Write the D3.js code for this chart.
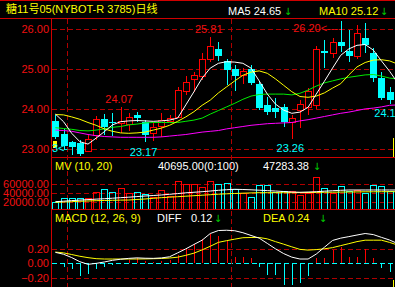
<!DOCTYPE html>
<html><head><meta charset="utf-8">
<script src="https://cdn.jsdelivr.net/npm/d3@7"></script>
<style>
html,body{margin:0;padding:0;background:#000;overflow:hidden}
svg{display:block}
text{font-family:"Liberation Sans",Arial,"Noto Sans CJK SC",sans-serif;font-size:11px}
</style></head><body>
<svg id="c" width="395" height="287"></svg>
<script>
// ---- data ----
const opens  = [23.71,23.38,23.17,23.15,22.97,23.36,23.76,23.67,23.65,23.63,23.86,23.67,23.40,23.58,23.72,23.82,24.47,24.75,24.83,25.25,25.52,25.20,25.02,24.86,25.01,24.64,24.11,24.04,24.05,23.68,23.98,24.05,24.10,25.46,25.40,25.69,25.46,25.33,25.78,25.40,24.78,24.42,24.40];
const highs  = [23.85,23.50,23.21,23.23,23.35,23.83,23.88,23.90,24.07,23.90,23.94,23.73,23.67,23.90,23.86,24.57,24.82,24.94,25.40,25.81,25.67,25.25,25.10,25.04,25.11,24.70,24.30,24.29,24.13,23.86,24.23,24.53,25.57,25.73,25.78,26.20,25.98,26.10,26.15,25.53,24.94,24.57,24.60];
const lows   = [23.25,22.98,22.86,22.83,22.93,23.23,23.35,23.33,23.40,23.45,23.69,23.17,23.22,23.32,23.65,23.78,24.36,24.44,24.73,25.19,25.22,24.60,24.46,24.63,24.60,23.98,23.86,23.79,23.57,23.26,23.54,23.86,24.02,25.03,25.28,25.44,25.19,25.27,25.40,24.69,24.23,24.13,24.18];
const closes = [23.30,23.08,23.06,22.88,23.26,23.76,23.57,23.65,23.71,23.80,23.78,23.36,23.57,23.73,23.78,24.48,24.69,24.86,25.25,25.57,25.32,24.99,24.83,24.96,24.65,24.04,23.92,23.94,23.67,23.78,24.13,24.47,25.50,25.40,25.67,25.59,25.32,25.90,25.61,24.78,24.28,24.23,24.35];
const ma5  = [23.88,23.69,23.40,23.19,23.13,23.28,23.44,23.61,23.69,23.71,23.72,23.71,23.70,23.71,23.73,23.78,24.11,24.44,24.78,25.03,25.15,25.19,25.18,25.15,25.03,24.71,24.38,24.13,23.98,23.90,23.93,24.05,24.38,24.70,25.03,25.35,25.51,25.60,25.62,25.48,25.21,24.95,24.66];
const ma10 = [23.87,23.86,23.81,23.75,23.67,23.60,23.51,23.45,23.41,23.40,23.41,23.43,23.48,23.53,23.60,23.70,23.81,23.94,24.10,24.23,24.41,24.56,24.71,24.85,24.93,24.96,24.90,24.76,24.60,24.44,24.32,24.30,24.33,24.41,24.53,24.64,24.86,25.06,25.17,25.23,25.24,25.21,25.13];
const ma20 = [23.54,23.52,23.50,23.47,23.46,23.48,23.51,23.55,23.57,23.61,23.63,23.66,23.67,23.67,23.67,23.67,23.70,23.73,23.78,23.88,23.97,24.06,24.15,24.25,24.33,24.37,24.38,24.38,24.38,24.36,24.40,24.48,24.58,24.66,24.71,24.76,24.80,24.83,24.86,24.87,24.83,24.78,24.76];
const ma60 = [23.48,23.47,23.45,23.41,23.37,23.34,23.32,23.31,23.30,23.30,23.30,23.30,23.30,23.31,23.33,23.35,23.37,23.40,23.43,23.45,23.47,23.51,23.54,23.57,23.60,23.62,23.64,23.65,23.66,23.67,23.71,23.74,23.78,23.82,23.86,23.90,23.93,23.97,24.01,24.03,24.06,24.10,24.11];
const volumes = [21000,28200,29600,29600,28200,41600,48200,41600,50400,39300,41600,37800,31800,46700,34000,66700,59300,59300,54000,66700,59300,61600,48200,39300,30400,57800,57800,42900,45100,45100,35600,40700,74900,50400,39300,55600,45100,46700,39300,57800,55600,45100,45100];
const volMa10 = [20700,21800,23100,24200,25300,26400,27300,28400,29600,30700,32000,33300,34400,35600,37100,38700,40400,41600,42900,44400,46000,47300,48200,47800,47100,46200,45300,44400,43300,42200,41600,42200,42900,44000,45100,46000,46700,46700,46700,46700,46700,46700,46700];
const volMa20 = [19300,20000,20700,21600,22200,22900,23300,23800,24200,24400,25600,26700,28200,29600,30700,31800,32900,34000,35100,36200,37300,38200,38900,39600,40200,40700,40700,40700,40700,40700,40900,41100,41300,41600,41800,42000,42200,42400,42700,42700,42900,42900,42900];
const macdBars = [0.0,-0.05,-0.08,-0.17,-0.15,-0.08,-0.05,-0.02,0.005,0.045,0.07,0.03,0.02,0.03,0.045,0.11,0.21,0.26,0.34,0.40,0.38,0.31,0.09,0.09,0.07,-0.05,-0.16,-0.16,-0.30,-0.30,-0.27,-0.17,0.07,0.07,0.18,0.23,0.09,0.09,0.20,0.07,-0.07,-0.115,-0.15];
const diffLine = [0.151,0.125,0.079,0.022,-0.014,-0.001,0.018,0.041,0.056,0.068,0.075,0.070,0.068,0.074,0.090,0.144,0.199,0.260,0.319,0.411,0.452,0.456,0.449,0.422,0.384,0.347,0.274,0.200,0.134,0.085,0.059,0.059,0.127,0.221,0.315,0.347,0.368,0.390,0.411,0.396,0.358,0.321,0.271];
const deaLine = [0.155,0.144,0.121,0.097,0.078,0.064,0.059,0.059,0.059,0.059,0.059,0.060,0.063,0.066,0.073,0.084,0.110,0.140,0.185,0.235,0.289,0.312,0.333,0.353,0.356,0.356,0.337,0.299,0.264,0.227,0.192,0.182,0.189,0.200,0.216,0.244,0.271,0.299,0.319,0.319,0.319,0.288,0.251];
const priceTicks = [23, 24, 25, 26];
const volTicks = [20000, 40000, 60000];
const macdTicks = [-0.2, 0, 0.2];
const monthSplits = [1.4, 21.5];
const highMarks = [8, 19];
const lowMarks = [11, 29, 41];
const maxMark = 35, minMark = 3;
const title = "糖11号05(NYBOT-R 3785)日线";

// ---- colors ----
const RED = "#ff0000", CYAN = "#00ffff", GRID = "#b00000", BORDER = "#d00000", LBL = "#f01010";

const svg = d3.select("#c");
const W = 395, H = 287, L = 51;
const idx = d3.range(opens.length);

const x = d3.scaleLinear().domain([0, 41]).range([55.4, 389.6]);
const y = d3.scaleLinear().domain([23, 26]).range([149.3, 29.3]);
const vy = d3.scaleLinear().domain([0, 60000]).range([211, 184]);
const my = d3.scaleLinear().domain([-0.2, 0.2]).range([277.8, 248.8]);

const defs = svg.append("defs");
function clip(id, y0, y1){ defs.append("clipPath").attr("id", id).append("rect").attr("x", L+1).attr("y", y0).attr("width", W-L-1).attr("height", y1-y0); }
clip("cm", 19, 157); clip("cv", 158, 209); clip("cd", 210, 287);

// borders
svg.append("line").attr("x1",0).attr("x2",W).attr("y1",0.5).attr("y2",0.5).attr("stroke",BORDER);
svg.append("line").attr("x1",0).attr("x2",W).attr("y1",18.5).attr("y2",18.5).attr("stroke",BORDER);
svg.append("line").attr("x1",L+0.5).attr("x2",L+0.5).attr("y1",18).attr("y2",H).attr("stroke",BORDER);
[157.5, 209.5].forEach(v => svg.append("line").attr("x1",L).attr("x2",W).attr("y1",v).attr("y2",v).attr("stroke",BORDER));

// grid lines
const dash = "5,3";
function hgrid(scale, ticks, color){
  svg.append("g").selectAll("line").data(ticks).join("line")
    .attr("x1", L+1).attr("x2", W)
    .attr("y1", d => Math.round(scale(d))+0.5).attr("y2", d => Math.round(scale(d))+0.5)
    .attr("stroke", d => typeof color === "function" ? color(d) : color)
    .attr("stroke-dasharray", dash);
}
hgrid(y, priceTicks, GRID);
hgrid(vy, volTicks, GRID);
hgrid(my, macdTicks, d => d === 0 ? CYAN : GRID);
svg.append("g").selectAll("line").data(monthSplits).join("line")
  .attr("x1", d => Math.round(x(d))+0.5).attr("x2", d => Math.round(x(d))+0.5)
  .attr("y1", 19).attr("y2", H).attr("stroke", GRID).attr("stroke-dasharray", dash);

// axes
function axis(scale, ticks){
  const g = svg.append("g").attr("transform", `translate(${L},0)`)
    .call(d3.axisLeft(scale).tickValues(ticks).tickFormat(d3.format(".2f")).tickSize(0).tickPadding(2));
  g.select(".domain").remove();
  g.selectAll("text").attr("fill", LBL).style("font-size","11px").style("font-family","'Liberation Sans',Arial,sans-serif");
}
axis(y, priceTicks); axis(vy, volTicks); axis(my, macdTicks);

// ---- main: candles ----
const gm = svg.append("g").attr("clip-path", "url(#cm)");
idx.forEach(i => {
  const cx = Math.round(x(i));
  const up = closes[i] >= opens[i];
  const yt = Math.round(y(Math.max(opens[i], closes[i])));
  const yb = Math.round(y(Math.min(opens[i], closes[i])));
  const yh = Math.round(y(highs[i])), yl = Math.round(y(lows[i]));
  if (up) {
    gm.append("line").attr("x1",cx+0.5).attr("x2",cx+0.5).attr("y1",yh).attr("y2",yt).attr("stroke",RED);
    gm.append("line").attr("x1",cx+0.5).attr("x2",cx+0.5).attr("y1",yb).attr("y2",yl).attr("stroke",RED);
    gm.append("rect").attr("x",cx-2.5).attr("y",yt+0.5).attr("width",6).attr("height",Math.max(yb-yt,1)).attr("fill","#000").attr("stroke",RED);
  } else {
    gm.append("line").attr("x1",cx+0.5).attr("x2",cx+0.5).attr("y1",yh).attr("y2",yl).attr("stroke",CYAN);
    gm.append("rect").attr("x",cx-3).attr("y",yt).attr("width",7).attr("height",Math.max(yb-yt,1)).attr("fill",CYAN);
  }
});
// moving averages
const pl = d3.line().x((d,i) => x(i)).y(d => y(d));
[[ma60,"#ff00ff"],[ma20,"#00ee00"],[ma10,"#ffff00"],[ma5,"#ffffff"]].forEach(([arr,c]) => {
  gm.append("path").attr("d", pl(arr)).attr("fill","none").attr("stroke",c).attr("stroke-width",1);
});
// markers
gm.append("rect").attr("x",53).attr("y",141).attr("width",4).attr("height",7).attr("fill","#ffff00");
svg.append("line").attr("x1",393.5).attr("x2",393.5).attr("y1",138).attr("y2",157).attr("stroke","#ffff00");
svg.append("line").attr("x1",393.5).attr("x2",393.5).attr("y1",280).attr("y2",287).attr("stroke","#ffff00");

const fmt = d3.format(".2f");
highMarks.forEach(i => {
  svg.append("text").attr("x", x(i)-1.5).attr("y", y(highs[i])-3.5).attr("text-anchor","middle")
    .attr("fill", LBL).text(fmt(highs[i]));
});
lowMarks.forEach(i => {
  svg.append("text").attr("x", x(i)-1.5).attr("y", y(lows[i])+13).attr("text-anchor","middle")
    .attr("fill", CYAN).text(fmt(lows[i]));
});
svg.append("text").attr("x", x(maxMark)-47.5).attr("y", y(highs[maxMark])+10.5)
  .attr("fill", LBL).text(fmt(highs[maxMark]) + "<----");
// low marker: only its tail is visible right of the axis
svg.append("text").attr("x", 52).attr("y", y(lows[minMark])-4.5)
  .attr("fill", CYAN).text(fmt(lows[minMark]).slice(-1) + "<-");

// ---- volume ----
const gv = svg.append("g").attr("clip-path", "url(#cv)");
idx.forEach(i => {
  const cx = Math.round(x(i));
  const up = closes[i] >= opens[i];
  const yt = Math.round(vy(volumes[i]));
  gv.append("rect").attr("x",cx-2.5).attr("y",yt+0.5).attr("width",6).attr("height",212-yt)
    .attr("fill","none").attr("stroke", up ? RED : CYAN);
});
const vl = d3.line().x((d,i) => x(i)).y(d => vy(d));
gv.append("path").attr("d", vl(volMa20)).attr("fill","none").attr("stroke","#ffff00");
gv.append("path").attr("d", vl(volMa10)).attr("fill","none").attr("stroke","#ffffff");

// ---- MACD ----
const gd = svg.append("g").attr("clip-path", "url(#cd)");
idx.forEach(i => {
  const cx = Math.round(x(i)) + 0.5;
  gd.append("line").attr("x1",cx).attr("x2",cx).attr("y1",Math.round(my(0))).attr("y2",Math.round(my(macdBars[i])))
    .attr("stroke", macdBars[i] >= 0 ? RED : CYAN);
});
const ml = d3.line().x((d,i) => x(i)).y(d => my(d));
gd.append("path").attr("d", ml(deaLine)).attr("fill","none").attr("stroke","#ffff00");
gd.append("path").attr("d", ml(diffLine)).attr("fill","none").attr("stroke","#ffffff");

// ---- header texts ----
function t(xx, yy, s, c, anchor){ return svg.append("text").attr("x",xx).attr("y",yy).attr("fill",c).attr("text-anchor",anchor||"start").text(s); }
function arrow(xx, yy){ return svg.append("text").attr("x",xx).attr("y",yy).attr("fill","#00d000").attr("text-anchor","middle").style("font-family","'DejaVu Sans',sans-serif").style("font-size","10px").text("↓"); }
t(6, 12.5, title, "#ffff00");
t(228, 14.5, "MA5 24.65", "#ffffff"); arrow(288, 14.5);
t(319, 14.5, "MA10 25.12", "#ffff00"); arrow(384, 14.5);
t(55, 170, "MV (10, 20)", "#ffff00");
t(158, 170, "40695.00(0:100)", "#ffffff");
t(263, 170, "47283.38", "#ffffff"); arrow(317, 170);
t(55, 222, "MACD (12, 26, 9)", "#ffff00");
t(157, 222, "DIFF", "#ffffff");
t(191, 222, "0.12", "#ffffff"); arrow(218, 222);
t(263, 222, "DEA  0.24", "#ffff00"); arrow(323, 222);
</script>
</body></html>
